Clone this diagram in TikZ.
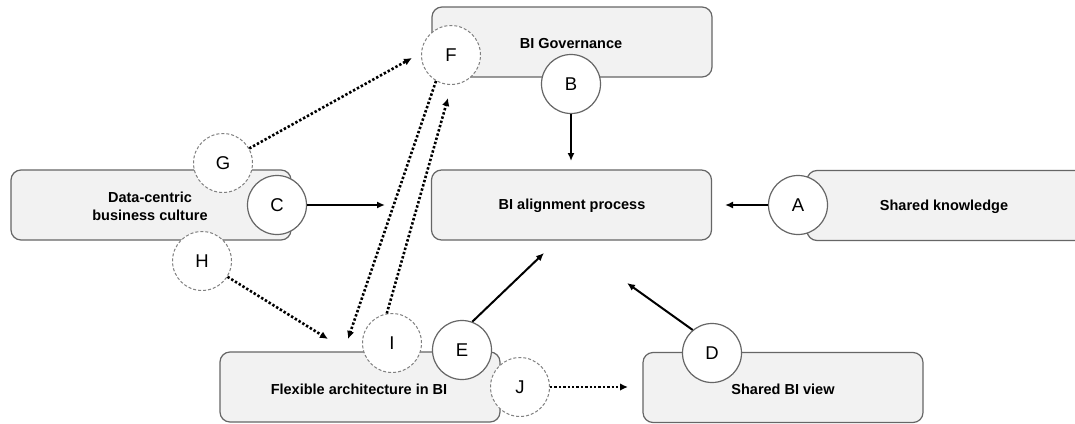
\documentclass[tikz,border=0pt]{standalone}
\usepackage{fontspec}
\setmainfont{Liberation Sans}
\usetikzlibrary{arrows.meta}
\definecolor{boxfill}{HTML}{F2F2F2}
\definecolor{boxline}{HTML}{666666}
\definecolor{dashline}{HTML}{808080}
\tikzset{
  stagebox/.style={draw=boxline, line width=1.2pt, fill=boxfill, rounded corners=10pt,
    minimum width=280pt, minimum height=70pt, inner sep=0pt},
  boxlabel/.style={font=\bfseries\fontsize{14.5}{18}\selectfont, align=center, inner sep=0pt},
  solidcirc/.style={circle, draw=boxline, line width=1.2pt, fill=white, minimum size=59pt,
    inner sep=0pt, font=\fontsize{18.5}{20}\selectfont},
  dashcirc/.style={circle, draw=dashline, line width=1pt, dash pattern=on 3pt off 2pt, fill=white,
    minimum size=59pt, inner sep=0pt, font=\fontsize{18.5}{20}\selectfont},
  solidarrow/.style={draw=black, line width=2pt, -{Latex[length=8pt,width=7pt]}},
  dotarrow/.style={draw=black, line width=2.6pt, dash pattern=on 2.4pt off 2pt,
    -{Latex[length=8pt,width=7.5pt]}}
}
\begin{document}
\begin{tikzpicture}[x=1pt,y=-1pt]
\clip (0,0) rectangle (1075,423);
\fill[white] (0,0) rectangle (1075,423);

% boxes
\node[stagebox] (gov) at (572,42) {};
\node[stagebox] (align) at (571.5,205) {};
\node[stagebox] (know) at (947,205.5) {};
\node[stagebox] (data) at (151,205) {};
\node[stagebox] (flex) at (360,387) {};
\node[stagebox] (view) at (783,387.5) {};

% box labels
\node[boxlabel] (govt) at (571,44) {BI Governance};
\node[boxlabel] (alignt) at (572,206) {BI alignment process};
\node[boxlabel] (knowt) at (944,207) {Shared knowledge};
\node[boxlabel] (datat) at (150,206) {Data-centric\\business culture};
\node[boxlabel] (flext) at (359,389) {Flexible architecture in BI};
\node[boxlabel] (viewt) at (783,389) {Shared BI view};

% circles
\node[dashcirc] (F) at (451,55) {F};
\node[solidcirc] (B) at (571,84) {B};
\node[dashcirc] (G) at (223,163) {G};
\node[solidcirc] (C) at (277,205) {C};
\node[dashcirc] (H) at (202,261) {H};
\node[solidcirc] (A) at (798,205) {A};
\node[dashcirc] (I) at (392,343) {I};
\node[solidcirc] (E) at (462,350) {E};
\node[dashcirc] (J) at (520,387) {J};
\node[solidcirc] (D) at (712,353) {D};

% arrow ends
\coordinate (tB) at (571,161);
\coordinate (tC) at (385,205);
\coordinate (tA) at (725,205);
\coordinate (tG) at (412,58);
\coordinate (tH) at (328,339);
\coordinate (tF) at (348,339);
\coordinate (tI) at (448,98);
\coordinate (tE) at (544,253);
\coordinate (tJ) at (628,387);
\coordinate (tD) at (627,283);

% connectors
\draw[solidarrow] (B.south) -- (tB);
\draw[solidarrow] (C.east) -- (tC);
\draw[solidarrow] (A.west) -- (tA);
\draw[solidarrow] (E.70) -- (tE);
\draw[solidarrow] (D.130) -- (tD);
\draw[dotarrow] (G) -- (tG);
\draw[dotarrow] (H) -- (tH);
\draw[dotarrow] (F.240) -- (tF);
\draw[dotarrow] (I.100) -- (tI);
\draw[dotarrow] (J.east) -- (tJ);
\end{tikzpicture}
\end{document}
